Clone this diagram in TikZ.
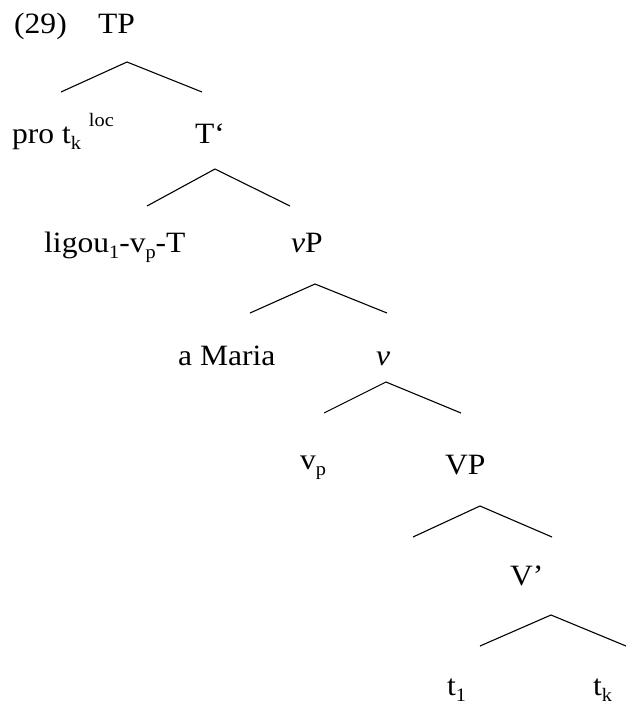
\documentclass[tikz,border=0pt]{standalone}
\usepackage{fontspec}
\setmainfont[FakeStretch=1.07]{Liberation Serif}
\newcommand{\lsub}[1]{\raisebox{-0.22em}{\fontsize{19}{19}\selectfont #1}}
\newcommand{\lsup}[1]{\raisebox{0.55em}{\fontsize{19}{19}\selectfont #1}}
\begin{document}
\begin{tikzpicture}[x=1pt,y=-1pt,
  lbl/.style={anchor=base west,inner sep=0pt,font=\fontsize{29.5}{29.5}\selectfont},
  branch/.style={line width=1.1pt,line join=miter}]
\useasboundingbox (0,0) rectangle (627,705);
% labels
\node[lbl] (ex) at (14,33) {(29)};
\node[lbl] (tp) at (98,33) {TP};
\node[lbl] (pro) at (12,143) {pro t\lsub{k} \lsup{loc}};
\node[lbl] (tbar) at (195,143) {T‘};
\node[lbl] (lig) at (44,252) {ligou\lsub{1}-v\lsub{p}-T};
\node[lbl] (vP) at (291,252) {\textit{v}P};
\node[lbl] (mar) at (178,365) {a Maria};
\node[lbl] (vbar) at (376,365) {\textit{v}};
\node[lbl] (vp) at (300,469) {v\lsub{p}};
\node[lbl] (VP) at (445,474) {VP};
\node[lbl] (Vbar) at (510,585) {V’};
\node[lbl] (t1) at (447,695) {t\lsub{1}};
\node[lbl] (tk) at (593,695) {t\lsub{k}};
% branch points
\coordinate (a0) at (127,62);  \coordinate (a1) at (61,92);   \coordinate (a2) at (202,92);
\coordinate (b0) at (215,169); \coordinate (b1) at (147,206); \coordinate (b2) at (290,206);
\coordinate (c0) at (315,284); \coordinate (c1) at (250,313); \coordinate (c2) at (387,313);
\coordinate (d0) at (386,382); \coordinate (d1) at (324,413); \coordinate (d2) at (461,413);
\coordinate (e0) at (480,506); \coordinate (e1) at (413,537); \coordinate (e2) at (552,537);
\coordinate (f0) at (551,615); \coordinate (f1) at (480,646); \coordinate (f2) at (626,646);
\draw[branch] (a1) -- (a0) -- (a2);
\draw[branch] (b1) -- (b0) -- (b2);
\draw[branch] (c1) -- (c0) -- (c2);
\draw[branch] (d1) -- (d0) -- (d2);
\draw[branch] (e1) -- (e0) -- (e2);
\draw[branch] (f1) -- (f0) -- (f2);
\end{tikzpicture}
\end{document}
